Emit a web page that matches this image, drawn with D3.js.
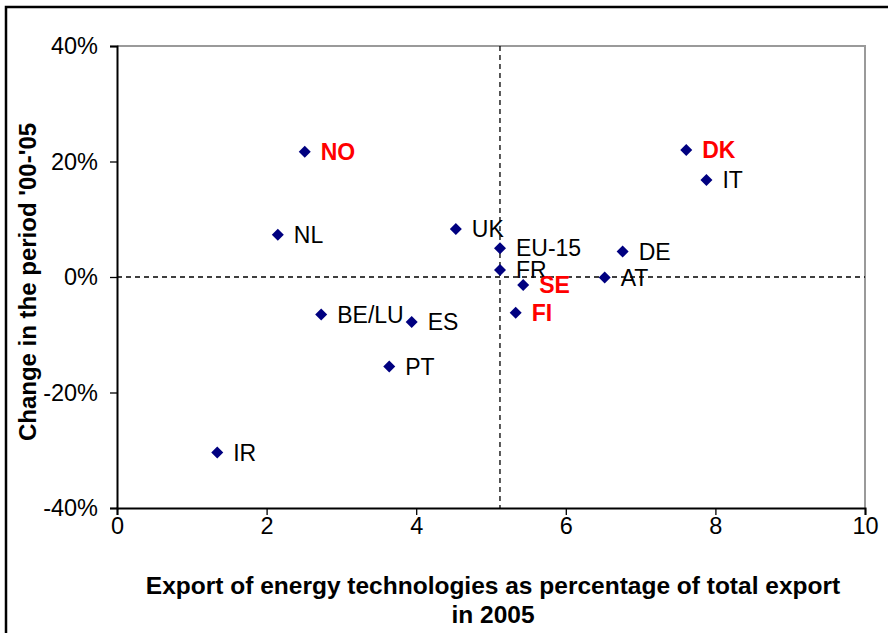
<!DOCTYPE html>
<html>
<head>
<meta charset="utf-8">
<script src="https://cdn.jsdelivr.net/npm/d3@7"></script>
<style>
  body { margin: 0; background: #fff; }
  text { font-family: "Liberation Sans", Arial, sans-serif; }
</style>
</head>
<body>
<script>
// countries, export share 2005 (%) and change '00-'05
var countries = ["NO", "NL", "UK", "EU-15", "FR", "SE", "FI", "AT", "DE", "DK", "IT", "BE/LU", "ES", "PT", "IR"]
var exportShare = [2.51, 2.15, 4.53, 5.12, 5.12, 5.43, 5.33, 6.52, 6.76, 7.61, 7.88, 2.73, 3.94, 3.64, 1.34]
var change = [0.217, 0.073, 0.083, 0.050, 0.012, -0.014, -0.062, -0.001, 0.044, 0.220, 0.168, -0.065, -0.078, -0.155, -0.304]
var highlighted = ["NO", "DK", "SE", "FI"]

var xTicks = [0, 2, 4, 6, 8, 10]
var yTicks = [-0.4, -0.2, 0, 0.2, 0.4]
var euAverage = 5.12   // vertical reference line (EU-15)

var W = 888, H = 633
var margin = {top: 46, right: 23, bottom: 125, left: 117}
var width = W - margin.left - margin.right
var height = H - margin.top - margin.bottom

var svg = d3.select("body").append("svg")
    .attr("width", W)
    .attr("height", H)

// outer frame (only left and top are visible in the picture)
svg.append("rect")
    .attr("x", 6).attr("y", 7)
    .attr("width", W + 20).attr("height", H + 20)
    .attr("fill", "none")
    .attr("stroke", "#000")
    .attr("stroke-width", 2.5)

var g = svg.append("g")
    .attr("transform", "translate(" + margin.left + "," + margin.top + ")")

var x = d3.scaleLinear().domain([0, 10]).range([0, width])
var y = d3.scaleLinear().domain([-0.4, 0.4]).range([height, 0])

// plot area border, top and right are grey
g.append("path")
    .attr("d", "M0,0H" + width + "V" + height)
    .attr("fill", "none")
    .attr("stroke", "#9a9a9a")
    .attr("stroke-width", 2)

// dashed reference lines
g.append("line")
    .attr("x1", 0).attr("x2", width)
    .attr("y1", y(0)).attr("y2", y(0))
    .attr("stroke", "#000").attr("stroke-width", 1.3)
    .attr("stroke-dasharray", "5,4")
g.append("line")
    .attr("x1", x(euAverage)).attr("x2", x(euAverage))
    .attr("y1", 0).attr("y2", height)
    .attr("stroke", "#000").attr("stroke-width", 1.3)
    .attr("stroke-dasharray", "5,4")

var pct = function(v) { return d3.format(".0%")(v).replace("\u2212", "-") }

// axes
var xAxis = g.append("g")
    .attr("transform", "translate(0," + height + ")")
    .call(d3.axisBottom(x).tickValues(xTicks).tickSize(7).tickPadding(2).tickFormat(d3.format("d")))
var yAxis = g.append("g")
    .call(d3.axisLeft(y).tickValues(yTicks).tickSize(7).tickPadding(12).tickFormat(pct))

;[xAxis, yAxis].forEach(function(a) {
    a.select(".domain").attr("stroke", "#000").attr("stroke-width", 2)
    a.selectAll(".tick line").attr("stroke", "#000").attr("stroke-width", 1.3)
    a.selectAll("text")
        .attr("fill", "#000")
        .style("font-size", "23.5px")
        .style("font-family", "'Liberation Sans', Arial, sans-serif")
})

// points
var pts = countries.map(function(c, i) {
    return {name: c, vx: exportShare[i], vy: change[i]}
})

var diamond = "M0,-6L6,0L0,6L-6,0Z"

g.selectAll(".pt")
    .data(pts)
    .enter()
    .append("path")
    .attr("class", "pt")
    .attr("d", diamond)
    .attr("transform", function(d) { return "translate(" + x(d.vx) + "," + y(d.vy) + ")" })
    .attr("fill", "#000080")

g.selectAll(".lbl")
    .data(pts)
    .enter()
    .append("text")
    .attr("class", "lbl")
    .attr("x", function(d) { return x(d.vx) + 16 })
    .attr("y", function(d) { return y(d.vy) })
    .attr("dy", "0.36em")
    .style("font-size", "23px")
    .style("font-weight", function(d) { return highlighted.indexOf(d.name) >= 0 ? "bold" : "normal" })
    .attr("fill", function(d) { return highlighted.indexOf(d.name) >= 0 ? "#ff0000" : "#000" })
    .text(function(d) { return d.name })

// axis titles
svg.append("text")
    .attr("x", margin.left + width / 2 + 2)
    .attr("y", 594)
    .attr("text-anchor", "middle")
    .style("font-size", "24.5px")
    .style("font-weight", "bold")
    .text("Export of energy technologies as percentage of total export")
svg.append("text")
    .attr("x", margin.left + width / 2 + 2)
    .attr("y", 623)
    .attr("text-anchor", "middle")
    .style("font-size", "24.5px")
    .style("font-weight", "bold")
    .text("in 2005")

svg.append("text")
    .attr("transform", "translate(36," + (margin.top + height / 2 + 5) + ") rotate(-90)")
    .attr("text-anchor", "middle")
    .style("font-size", "24px")
    .style("font-weight", "bold")
    .text("Change in the period '00-'05")
</script>
</body>
</html>
